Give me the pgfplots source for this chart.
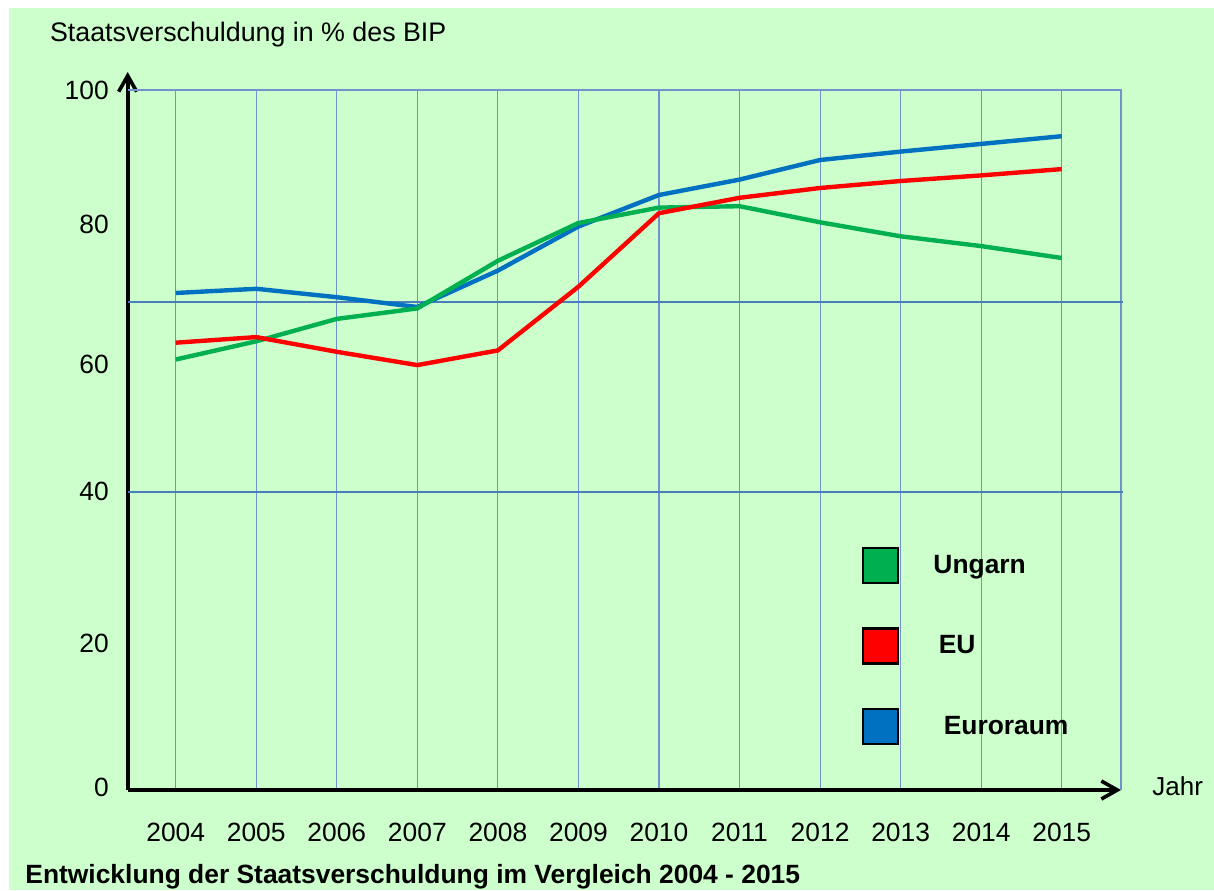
\documentclass[border=0pt]{standalone}
\usepackage{fontspec}
\setmainfont{Liberation Sans}
\usepackage{pgfplots}
\pgfplotsset{compat=1.18}
\usetikzlibrary{arrows.meta}
\definecolor{bg}{HTML}{CCFFCC}
\definecolor{hugreen}{HTML}{00B050}
\definecolor{eured}{HTML}{FF0000}
\definecolor{ezblue}{HTML}{0070C0}
\definecolor{gridv}{HTML}{6F93CF}
\definecolor{gridh}{HTML}{4A7EBB}
\begin{document}
\begin{tikzpicture}
\path[use as bounding box] (0,0) rectangle (607pt,445pt);
\clip (0,0) rectangle (607pt,445pt);
\fill[bg] (4.5pt,0) rectangle (607pt,441pt);
\node[anchor=base west, inner sep=0pt, font=\fontsize{13.4}{16}\selectfont] at (24.85pt,424.15pt) {Staatsverschuldung in \% des BIP};
\node[anchor=base west, inner sep=0pt, font=\fontsize{13.2}{16}\selectfont\bfseries] at (12.5pt,3.2pt) {Entwicklung der Staatsverschuldung im Vergleich 2004 - 2015};
\node[anchor=base west, inner sep=0pt, font=\fontsize{13}{16}\selectfont] at (576pt,47.5pt) {Jahr};
\begin{axis}[
  at={(63.85pt,50pt)}, anchor=south west,
  scale only axis, width=496.65pt, height=350pt,
  xmin=2003.404, xmax=2015.736, ymin=0, ymax=100,
  clip=false,
  axis x line=bottom, axis y line=left,
  x axis line style={black, line width=1.8pt, -{Straight Barb[length=8pt,width=9pt,line width=1.8pt]}},
  y axis line style={black, line width=1.8pt, -{Straight Barb[length=8pt,width=9pt,line width=1.8pt]}, shorten >=-9pt},
  major tick length=0pt,
  xtick={2004,2005,2006,2007,2008,2009,2010,2011,2012,2013,2014,2015},
  xticklabels={2004,2005,2006,2007,2008,2009,2010,2011,2012,2013,2014,2015},
  ytick={0.4,21,42.6,60.86,80.86,100},
  yticklabels={0,20,40,60,80,100},
  xmajorgrids,
  grid style={gridv, line width=0.55pt},
  tick label style={font=\fontsize{13.2}{16}\selectfont, inner sep=0pt},
  xticklabel style={anchor=north, yshift=-16.5pt},
  yticklabel style={anchor=east, xshift=-9.3pt},
  /pgf/number format/assume math mode=true,
  legend style={at={(0.7393,0.3471)}, anchor=north west, draw=none, fill=none,
    inner sep=0pt, outer sep=0pt, row sep=21.5pt,
    nodes={inner sep=0pt, font=\fontsize{13.2}{16}\selectfont\bfseries},
    /tikz/every odd column/.append style={column sep=17pt}},
  legend cell align=left,
]
\draw[gridv, line width=0.55pt] (axis cs:2003.404,100) -- (axis cs:2015.736,100) -- (axis cs:2015.736,0);
\draw[gridh, line width=1.3pt] (axis cs:2003.404,69.7) -- (axis cs:2015.76,69.7);
\draw[gridh, line width=0.9pt] (axis cs:2003.404,42.6) -- (axis cs:2015.76,42.6);
\addplot[ezblue, line width=2.2pt, forget plot] coordinates {
(2004,71.0) (2005,71.6) (2006,70.4) (2007,69.0) (2008,74.2) (2009,80.5)
(2010,85.0) (2011,87.2) (2012,90.0) (2013,91.2) (2014,92.3) (2015,93.4)};
\addplot[hugreen, line width=2.2pt, forget plot] coordinates {
(2004,61.5) (2005,64.1) (2006,67.3) (2007,68.8) (2008,75.6) (2009,81.0)
(2010,83.2) (2011,83.4) (2012,81.1) (2013,79.1) (2014,77.7) (2015,76.0)};
\addplot[eured, line width=2.2pt, forget plot] coordinates {
(2004,63.9) (2005,64.7) (2006,62.6) (2007,60.7) (2008,62.8) (2009,71.9)
(2010,82.4) (2011,84.6) (2012,86.0) (2013,87.0) (2014,87.8) (2015,88.7)};
\addlegendimage{legend image code/.code={\draw[fill=hugreen,draw=black,line width=1.2pt] (0pt,-8.75pt) rectangle (17.5pt,8.75pt);}}
\addlegendentry{Ungarn}
\addlegendimage{legend image code/.code={\draw[fill=eured,draw=black,line width=1.2pt] (0pt,-8.75pt) rectangle (17.5pt,8.75pt);}}
\addlegendentry{\hspace*{2.65pt}EU}
\addlegendimage{legend image code/.code={\draw[fill=ezblue,draw=black,line width=1.2pt] (0pt,-8.75pt) rectangle (17.5pt,8.75pt);}}
\addlegendentry{\hspace*{5.15pt}Euroraum}
\end{axis}
\end{tikzpicture}
\end{document}
